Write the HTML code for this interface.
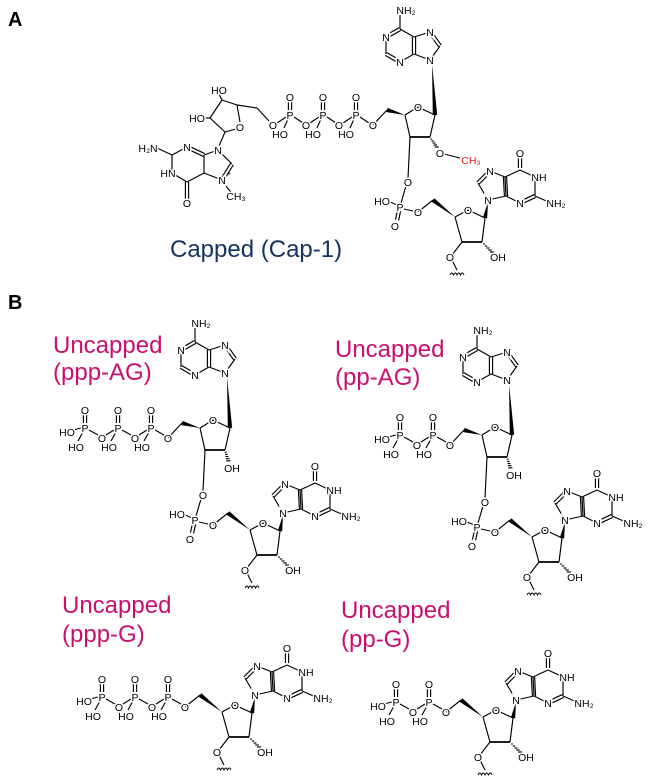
<!DOCTYPE html>
<html><head><meta charset="utf-8">
<style>
html,body{margin:0;padding:0;background:#fff;}
svg{display:block;}
text{font-family:"Liberation Sans",Arial,sans-serif;}
.l{font-size:10.5px;fill:#000;stroke:#fff;stroke-width:3px;paint-order:stroke;}
</style></head>
<body>
<svg id="s" width="650" height="778" viewBox="0 0 650 778" xmlns="http://www.w3.org/2000/svg">
<text x="8" y="26" font-size="20" font-weight="bold">A</text>
<text x="8" y="309" font-size="20" font-weight="bold">B</text>
<text x="170" y="257" font-size="24" fill="#13335f">Capped (Cap-1)</text>
<text x="53" y="353" font-size="24" fill="#c8106e">Uncapped</text>
<text x="53" y="380" font-size="24" fill="#c8106e">(ppp-AG)</text>
<text x="335" y="357" font-size="24" fill="#c8106e">Uncapped</text>
<text x="335" y="385" font-size="24" fill="#c8106e">(pp-AG)</text>
<text x="62" y="613" font-size="24" fill="#c8106e">Uncapped</text>
<text x="62" y="642" font-size="24" fill="#c8106e">(ppp-G)</text>
<text x="341" y="618" font-size="24" fill="#c8106e">Uncapped</text>
<text x="341" y="647" font-size="24" fill="#c8106e">(pp-G)</text>
<g id="b" stroke="#000" stroke-width="1.15" fill="none"></g>
<g id="t"></g>
</svg>
<script>
var NS="http://www.w3.org/2000/svg",B=document.getElementById('b'),T=document.getElementById('t');
var ox=0,oy=0;
function el(p,n,a){var e=document.createElementNS(NS,n);for(var k in a)e.setAttribute(k,a[k]);p.appendChild(e);return e;}
function L(x1,y1,x2,y2,w){el(B,'line',{x1:x1+ox,y1:y1+oy,x2:x2+ox,y2:y2+oy,'stroke-width':w||1.15});}
function D(x1,y1,x2,y2){var dx=x2-x1,dy=y2-y1,l=Math.hypot(dx,dy),nx=-dy/l*1.6,ny=dx/l*1.6;L(x1+nx,y1+ny,x2+nx,y2+ny);L(x1-nx,y1-ny,x2-nx,y2-ny);}
function W(x1,y1,x2,y2){var dx=x2-x1,dy=y2-y1,l=Math.hypot(dx,dy),nx=-dy/l*2.2,ny=dx/l*2.2;
 el(B,'polygon',{points:(x1+ox)+','+(y1+oy)+' '+(x2+nx+ox)+','+(y2+ny+oy)+' '+(x2-nx+ox)+','+(y2-ny+oy),fill:'#000',stroke:'none'});}
function H(x1,y1,x2,y2){for(var i=1;i<=5;i++){var f=i/6,x=x1+(x2-x1)*f,y=y1+(y2-y1)*f,w=0.6+f*1.8;L(x-w,y,x+w,y);}}
function X(x,y,s,c){var e=el(T,'text',{x:x+ox,y:y+oy+3.8,'text-anchor':'middle','class':'l'});if(c)e.setAttribute('style','fill:'+c);e.textContent=s;return e;}
function Sq(x,y){el(B,'path',{d:'M'+(x-7+ox)+' '+(y+3+oy)+' q2 -4 3.5 0 q2 -4 3.5 0 q2 -4 3.5 0 q2 -4 3.5 0','stroke-width':0.9});}
function G(){
 L(488,200,478,183);D(478,183,490,171);L(490,171,505,177);L(505,177,506,196);L(506,196,488,200);
 D(506,196,505,177);L(505,177,520,170);D(520,168,520,155);L(520,170,535,177);L(535,177,535,196);D(535,196,520,203);L(520,203,506,196);
 L(535,196,551,203);
 X(488,200,'N');X(490,171,'N');X(520,153,'O');X(539,177,'NH');X(520,203,'N');X(556,203,'NH\u2082');
 W(488,202,485,218);
 L(455,217,468,210);L(468,210,485,218);L(485,218,482,242);L(482,242,462,242,1.8);L(462,242,455,217);
 H(482,242,494,254);X(498,257,'OH');
 L(462,242,452,255);X(450,257,'O');L(452,260,457,270);Sq(457,272);
 W(455,217,433,200);L(433,200,418,212);
 X(468,210,'O');
}
function AG(me){
 D(400,29,386,37);L(386,37,386,54);D(386,54,400,62);L(400,62,414,54);D(414,54,414,37);L(414,37,400,29);
 L(400,29,400,15);L(414,37,430,32);D(430,32,440,46);L(440,46,430,60);L(430,60,414,54);
 X(386,37,'N');X(400,62,'N');X(430,32,'N');X(430,60,'N');X(406,10,'NH\u2082');
 W(432,64,435,115);
 L(405,115,418,107);L(418,107,435,115);L(435,115,430,137);L(430,137,410,137,1.8);L(410,137,405,115);
 X(418,107,'O');
 W(405,115,387,110);L(387,110,373,125);
 if(me){H(430,137,438,149);L(444,154,460,158);X(440,153,'O');X(471,160,'CH\u2083','#e0201a');}
 else{H(430,137,434,150);X(437,155,'OH');}
 L(410,137,408,178);X(408,182,'O');L(406,186,401,203);
 X(400,207,'P');L(397,205,388,201);X(382,201,'HO');D(399,211,397,220);X(395,226,'O');L(404,209,413,211);X(418,212,'O');
 G();
}
function chain(x,y,n){
 X(x,y,'O');
 for(var i=0;i<n;i++){
  var px=x-17-33*i,py=y-10;
  L(x-33*i-4,y-3,px+4,py+2);
  X(px,py,'P');D(px,py-5,px,py-15);X(px,py-18,'O');
  L(px-2,py+4,px-7,py+13);X(px-9,py+19,'HO');
  if(i<n-1){var bx=x-33*(i+1);L(px-4,py+2,bx+4,y-3);X(bx,y,'O');}
  else{L(px-4,py,px-12,py+2);X(px-18,py+4,'HO');}
 }
}
ox=0;oy=0;
AG(true);
X(373,125,'O');
[356,323,290].forEach(function(px,i){
 var py=115;L(px+13,123,px+4,117);X(px,py,'P');D(px,py-5,px,py-15);X(px,py-18,'O');
 L(px-2,py+4,px-6,py+13);X(px-10,py+19,'HO');
 var bx=px-17;L(px-4,py+2,bx+4,123);X(bx,125,'O');
});
L(222,100,237,105);L(237,105,240,122);L(236,129,225,132);L(225,132,210,118);L(210,118,222,100);
X(240,127,'O');L(222,100,219,94);X(219,90,'HO');L(210,118,203,118);X(197,118,'HO');
L(237,105,257,108);L(257,108,269,121);
L(225,132,219,146);
L(218,150,232,164);D(232,164,222,180);L(222,180,204,173);L(204,173,204,155);L(204,155,218,150);
D(204,155,187,147);L(187,147,172,155);L(172,155,172,173);L(172,173,187,182);L(187,182,204,173);
D(187,182,187,199);L(172,155,157,148);L(224,184,231,192);
X(218,150,'N');X(222,180,'N');X(187,147,'N');X(168,173,'HN');X(187,203,'O');X(148,148,'H\u2082N');X(236,196,'CH\u2083');
el(T,'text',{x:227,y:176,'font-size':7}).textContent='+';
ox=-205;oy=313;AG(false);ox=0;oy=0;chain(168,438,3);
ox=77;oy=320;AG(false);ox=0;oy=0;chain(450,445,2);
ox=-233;oy=495;G();ox=0;oy=0;chain(185,707,3);
ox=28;oy=500;G();ox=0;oy=0;chain(446,712,2);
</script>
</body></html>
